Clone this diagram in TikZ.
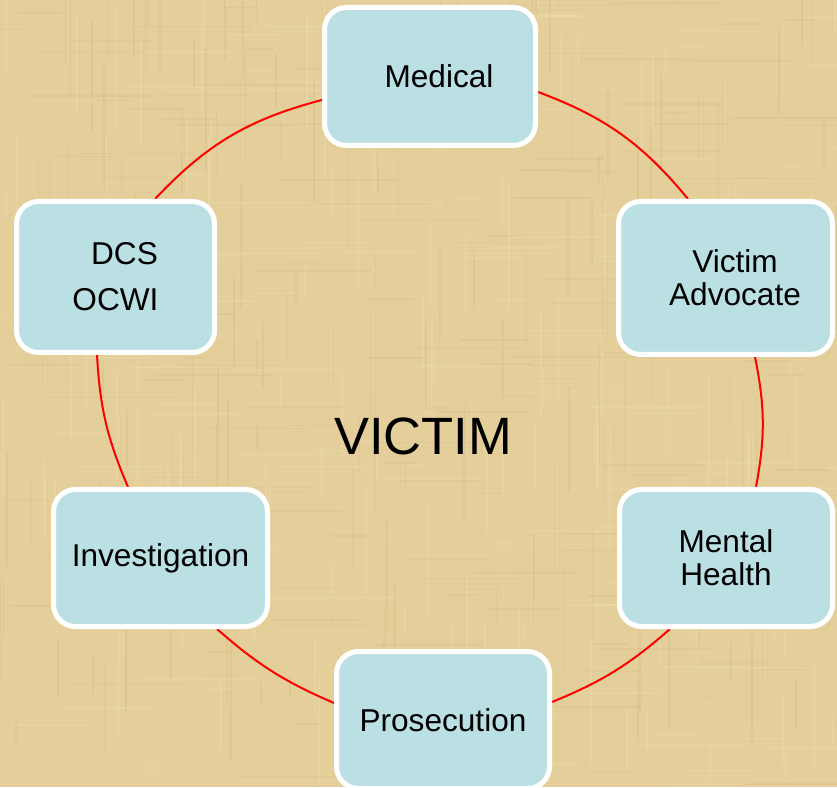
\documentclass[tikz,border=0pt]{standalone}
\usepackage{fontspec}
\setmainfont{Liberation Sans}
\pgfdeclarelayer{paper}
\pgfdeclarelayer{ring}
\pgfsetlayers{paper,ring,main}
\definecolor{parch}{RGB}{228,206,154}
\definecolor{parchdark}{RGB}{196,170,110}
\definecolor{parchlight}{RGB}{246,232,192}
\definecolor{boxblue}{RGB}{187,224,227}
\tikzset{
  card/.style={draw=white, line width=5pt, fill=boxblue, rounded corners=22pt,
    font=\fontsize{31.6}{33}\selectfont, text=black, align=center, inner sep=0pt},
  ringline/.style={red, line width=2pt},
}
\begin{document}
\begin{tikzpicture}[x=1pt,y=1pt]
\useasboundingbox (0,0) rectangle (837,787);
\begin{pgfonlayer}{paper}
  \fill[parch] (0,0) rectangle (837,787);
  \begin{scope}
    \clip (0,0) rectangle (837,787);
    \pgfmathsetseed{7}
    \foreach \i in {1,...,160}{
      \pgfmathsetmacro\xx{rnd*837}
      \pgfmathsetmacro\yy{rnd*787}
      \pgfmathsetmacro\ll{20+rnd*110}
      \draw[parchdark, opacity=0.16, line width=1.5pt] (\xx,\yy) -- ++(0,\ll);
    }
    \foreach \i in {1,...,160}{
      \pgfmathsetmacro\xx{rnd*837}
      \pgfmathsetmacro\yy{rnd*787}
      \pgfmathsetmacro\ll{20+rnd*110}
      \draw[parchlight, opacity=0.22, line width=2pt] (\xx,\yy) -- ++(0,\ll);
    }
    \foreach \i in {1,...,140}{
      \pgfmathsetmacro\xx{rnd*837}
      \pgfmathsetmacro\yy{rnd*787}
      \pgfmathsetmacro\ll{20+rnd*110}
      \draw[parchdark, opacity=0.14, line width=1.5pt] (\xx,\yy) -- ++(\ll,0);
    }
    \foreach \i in {1,...,140}{
      \pgfmathsetmacro\xx{rnd*837}
      \pgfmathsetmacro\yy{rnd*787}
      \pgfmathsetmacro\ll{20+rnd*110}
      \draw[parchlight, opacity=0.2, line width=2pt] (\xx,\yy) -- ++(\ll,0);
    }
  \end{scope}
\end{pgfonlayer}

\node[card, minimum width=211pt, minimum height=138pt] (med) at (430,710.5) {\hspace*{18pt}Medical};
\node[card, minimum width=198pt, minimum height=151pt] (dcs) at (115.5,510) {\hspace*{18pt}DCS\\[13pt]OCWI};
\node[card, minimum width=214pt, minimum height=153pt] (va) at (725.5,509) {\hspace*{19pt}Victim\\\hspace*{19pt}Advocate};
\node[card, minimum width=213pt, minimum height=137pt] (mh) at (726,229) {Mental\\Health};
\node[card, minimum width=214pt, minimum height=137pt] (inv) at (160.5,229) {Investigation};
\node[card, minimum width=213pt, minimum height=137pt] (pros) at (443,67) {Prosecution};
\node[font=\fontsize{52.5}{60}\selectfont, text=black, inner sep=0pt] (victim) at (423,351) {VICTIM};

\begin{pgfonlayer}{ring}
  \draw[ringline] ([yshift=-23.5pt]med.west) to[bend right=16] ([xshift=39.5pt]dcs.north);
  \draw[ringline] ([xshift=-18.5pt]dcs.south) to[bend right=10] ([xshift=-32.5pt]inv.north);
  \draw[ringline] ([xshift=56.5pt]inv.south) to[bend right=9] ([yshift=17pt]pros.west);
  \draw[ringline] ([yshift=18pt]pros.east) to[bend right=9.5] ([xshift=-56pt]mh.south);
  \draw[ringline] ([xshift=30pt]mh.north) to[bend right=11] ([xshift=29.5pt]va.south);
  \draw[ringline] ([xshift=-37.5pt]va.north) to[bend right=15] ([yshift=-15.5pt]med.east);
\end{pgfonlayer}
\end{tikzpicture}
\end{document}
